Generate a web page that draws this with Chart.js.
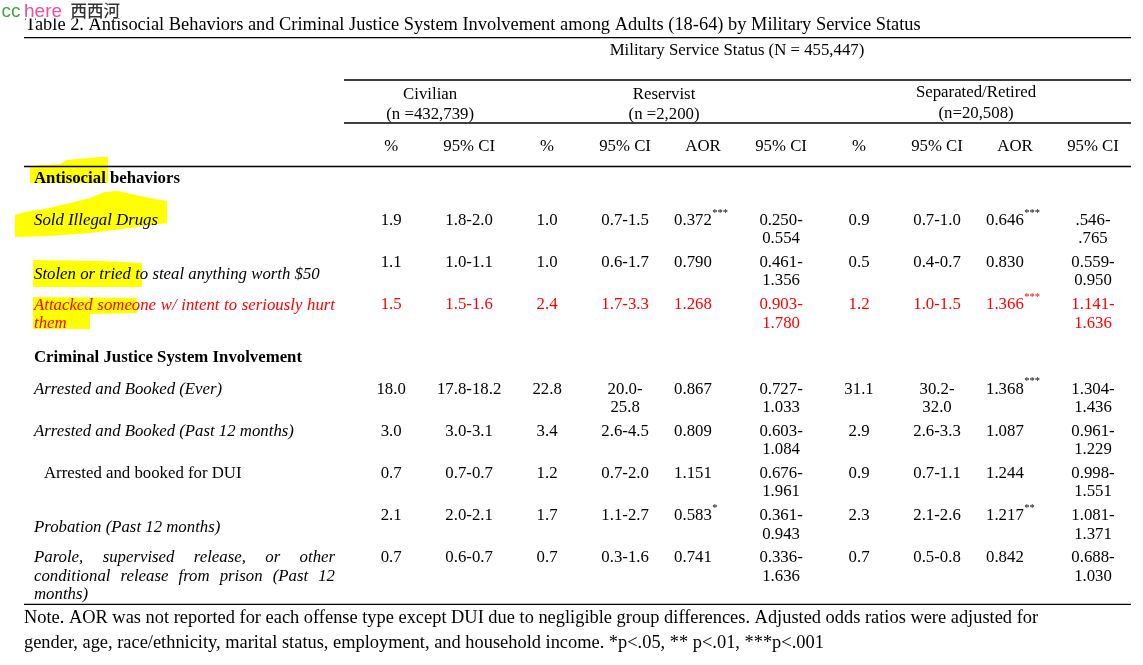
<!DOCTYPE html>
<html>
<head>
<meta charset="utf-8">
<script src="https://cdn.jsdelivr.net/npm/chart.js@4.4.1/dist/chart.umd.min.js"></script>
<style>
  html, body { margin: 0; padding: 0; background: #fff; }
  #wrap { width: 1143px; height: 665px; position: relative; }
</style>
</head>
<body>
<div id="wrap"><canvas id="tbl"></canvas></div>
<script>
// ---- table content ----
const titleText = 'Table 2. Antisocial Behaviors and Criminal Justice System Involvement among Adults (18-64) by Military Service Status';
const spanTitle = 'Military Service Status (N = 455,447)';
const groupNames = ['Civilian', 'Reservist', 'Separated/Retired'];
const groupCounts = ['(n =432,739)', '(n =2,200)', '(n=20,508)'];
const groupFirstCol = [0, 2, 6];
const groupLastCol = [1, 5, 9];
const colHeaders = ['%', '95% CI', '%', '95% CI', 'AOR', '95% CI', '%', '95% CI', 'AOR', '95% CI'];

const rowLabels = [
  ['Antisocial behaviors'],
  ['Sold Illegal Drugs'],
  ['Stolen or tried to steal anything worth $50'],
  ['Attacked someone w/ intent to seriously hurt', 'them'],
  ['Criminal Justice System Involvement'],
  ['Arrested and Booked (Ever)'],
  ['Arrested and Booked (Past 12 months)'],
  ['Arrested and booked for DUI'],
  ['Probation (Past 12 months)'],
  ['Parole, supervised release, or other', 'conditional release from prison (Past 12', 'months)']
];
const sectionRows = [0, 4];
const plainRows = [7];
const flaggedRow = 3;

const soldDrugs     = ['1.9', '1.8-2.0', '1.0', '0.7-1.5', '0.372***', '0.250-0.554', '0.9', '0.7-1.0', '0.646***', '.546-.765'];
const stolen50      = ['1.1', '1.0-1.1', '1.0', '0.6-1.7', '0.790', '0.461-1.356', '0.5', '0.4-0.7', '0.830', '0.559-0.950'];
const attacked      = ['1.5', '1.5-1.6', '2.4', '1.7-3.3', '1.268', '0.903-1.780', '1.2', '1.0-1.5', '1.366***', '1.141-1.636'];
const arrestedEver  = ['18.0', '17.8-18.2', '22.8', '20.0-25.8', '0.867', '0.727-1.033', '31.1', '30.2-32.0', '1.368***', '1.304-1.436'];
const arrested12m   = ['3.0', '3.0-3.1', '3.4', '2.6-4.5', '0.809', '0.603-1.084', '2.9', '2.6-3.3', '1.087', '0.961-1.229'];
const arrestedDui   = ['0.7', '0.7-0.7', '1.2', '0.7-2.0', '1.151', '0.676-1.961', '0.9', '0.7-1.1', '1.244', '0.998-1.551'];
const probation12m  = ['2.1', '2.0-2.1', '1.7', '1.1-2.7', '0.583*', '0.361-0.943', '2.3', '2.1-2.6', '1.217**', '1.081-1.371'];
const parole12m     = ['0.7', '0.6-0.7', '0.7', '0.3-1.6', '0.741', '0.336-1.636', '0.7', '0.5-0.8', '0.842', '0.688-1.030'];

const rowValues = [null, soldDrugs, stolen50, attacked, null, arrestedEver, arrested12m, arrestedDui, probation12m, parole12m];

const noteLines = [
  'Note. AOR was not reported for each offense type except DUI due to negligible group differences. Adjusted odds ratios were adjusted for',
  'gender, age, race/ethnicity, marital status, employment, and household income. *p<.05, ** p<.01, ***p<.001'
];

// ---- look ----
const INK = '#000';
const RED = '#ff0000';
const SERIF = '"Liberation Serif", "Times New Roman", Times, serif';
const BODY = 16.8;
const LINE = 18.4;
const MID = 1.5;            // 'middle' baseline sits a bit high for this face
const LABEL_X = 34, SUB_X = 44, LABEL_RIGHT = 335;
const RULE_L = 24, RULE_SPAN_L = 344, RULE_R = 1131;
const labelDrop = [0, 0, 12, 0.7, 11, 0, 0, 0, 12, 0];

// marker-pen strokes over the row labels
const HIGHLIGHTS = [
  [[30,166],[60,164],[67,160],[100,157],[108,157],[108,183],[30,183]],
  [[15,215],[25,212],[45,209],[70,203],[90,198],[105,192],[118,191],[140,196],[155,199],[167,201],[167,223],[130,228],[90,233],[50,236],[15,237]],
  [[33,260],[100,261],[142,263],[142,287],[33,287]],
  [[33,297],[137,298],[137,313],[90,314],[90,329],[33,329]]
];

function splitStars(t) {
  const m = t.match(/^(.*?)(\*+)$/);
  return m ? [m[1], m[2]] : [t, ''];
}

function drawJustified(ctx, text, x, y, width) {
  const words = text.split(' ');
  const total = words.reduce((s, w) => s + ctx.measureText(w).width, 0);
  const gap = words.length > 1 ? (width - total) / (words.length - 1) : 0;
  let cx = x;
  words.forEach(w => { ctx.fillText(w, cx, y); cx += ctx.measureText(w).width + gap; });
}

function drawCell(ctx, text, x, y, col, color) {
  const [num, stars] = splitStars(text);
  y += MID;
  ctx.fillStyle = color;
  ctx.font = BODY + 'px ' + SERIF;
  ctx.textBaseline = 'middle';
  if (colHeaders[col] === 'AOR') {
    const x0 = x - 29;
    ctx.textAlign = 'left';
    ctx.fillText(num, x0, y);
    if (stars) {
      const w = ctx.measureText(num).width;
      ctx.font = '10.5px ' + SERIF;
      ctx.fillText(stars, x0 + w + 0.5, y - 7.5);
    }
    return;
  }
  ctx.textAlign = 'center';
  const maxW = col === 1 ? 75 : 55;
  if (ctx.measureText(num).width > maxW) {
    const k = num.indexOf('-', 1);
    ctx.fillText(num.slice(0, k + 1), x, y);
    ctx.fillText(num.slice(k + 1), x, y + LINE);
  } else {
    ctx.fillText(num, x, y);
  }
}

const tablePainter = {
  id: 'tablePainter',
  beforeDatasetsDraw(chart) {
    const ctx = chart.ctx;
    const xs = chart.scales.x, ys = chart.scales.y;
    ctx.save();

    // highlighter
    ctx.fillStyle = '#ffff00';
    HIGHLIGHTS.forEach(poly => {
      ctx.beginPath();
      poly.forEach(([px, py], i) => i ? ctx.lineTo(px, py) : ctx.moveTo(px, py));
      ctx.closePath();
      ctx.fill();
    });

    // rules
    ctx.strokeStyle = INK;
    ctx.lineWidth = 1.3;
    [[RULE_L, 37.7], [RULE_SPAN_L, 80], [RULE_SPAN_L, 123], [RULE_L, 166.5], [RULE_L, 604.3]].forEach(([x0, y]) => {
      ctx.beginPath(); ctx.moveTo(x0, y); ctx.lineTo(RULE_R, y); ctx.stroke();
    });

    // title
    ctx.fillStyle = INK;
    ctx.textBaseline = 'alphabetic';
    ctx.textAlign = 'left';
    ctx.font = '18.4px ' + SERIF;
    ctx.fillText(titleText, 25, 29.5);

    // spanner + group heads
    ctx.textBaseline = 'middle';
    ctx.textAlign = 'center';
    ctx.font = BODY + 'px ' + SERIF;
    ctx.fillText(spanTitle, (chart.chartArea.left + chart.chartArea.right) / 2, 49.5 + MID);
    groupNames.forEach((g, i) => {
      const cx = (xs.getPixelForValue(groupFirstCol[i]) + xs.getPixelForValue(groupLastCol[i])) / 2;
      const lift = i === 2 ? 1.5 : 0;
      ctx.fillText(g, cx, 93 - lift + MID);
      ctx.fillText(groupCounts[i], cx, 113.3 - lift + MID);
    });
    colHeaders.forEach((h, c) => ctx.fillText(h, xs.getPixelForValue(c), 145 + MID));

    // row labels
    ctx.textAlign = 'left';
    rowLabels.forEach((lines, r) => {
      const y0 = ys.getPixelForValue(r) + labelDrop[r] + MID;
      let style = 'italic ';
      if (sectionRows.includes(r)) style = 'bold ';
      if (plainRows.includes(r)) style = '';
      ctx.font = style + BODY + 'px ' + SERIF;
      ctx.fillStyle = r === flaggedRow ? RED : INK;
      const x0 = plainRows.includes(r) ? SUB_X : LABEL_X;
      lines.forEach((ln, k) => {
        const y = y0 + k * LINE;
        if (k < lines.length - 1) drawJustified(ctx, ln, x0, y, LABEL_RIGHT - x0);
        else ctx.fillText(ln, x0, y);
      });
    });

    // note
    ctx.fillStyle = INK;
    ctx.font = '18.4px ' + SERIF;
    ctx.fillText(noteLines[0], 24, 616.7 + MID);
    ctx.fillText(noteLines[1], 24, 641.7 + MID);

    // watermark badge
    ctx.fillStyle = '#fff';
    ctx.fillRect(0, 0, 120, 18.5);
    ctx.textBaseline = 'alphabetic';
    ctx.font = '19px "Liberation Sans", Arial, sans-serif';
    ctx.fillStyle = '#43a047';
    ctx.fillText('cc', 1.5, 16.5);
    ctx.fillStyle = '#ee4f9e';
    ctx.fillText('here', 24, 16.5);
    ctx.fillStyle = '#333';
    ctx.font = '500 16.5px "Noto Sans CJK SC", sans-serif';
    ctx.fillText('西西河', 70.5, 16.5);

    ctx.restore();
  },
  afterDatasetsDraw(chart) {
    const ctx = chart.ctx;
    ctx.save();
    chart.data.datasets.forEach((ds, c) => {
      const meta = chart.getDatasetMeta(c);
      meta.data.forEach((pt, j) => {
        const r = ds.data[j].y;
        drawCell(ctx, rowValues[r][c], pt.x, pt.y, c, r === flaggedRow ? RED : INK);
      });
    });
    ctx.restore();
  }
};

new Chart(document.getElementById('tbl'), {
  type: 'scatter',
  data: {
    datasets: colHeaders.map((h, c) => ({
      label: h,
      data: rowValues.flatMap((vals, r) => vals ? [{ x: c, y: r }] : []),
      pointRadius: 0,
      pointHoverRadius: 0
    }))
  },
  options: {
    responsive: true,
    maintainAspectRatio: false,
    animation: false,
    events: [],
    layout: { padding: { left: 342, right: 11, top: 155.6, bottom: 87.4 } },
    plugins: { legend: { display: false }, tooltip: { enabled: false } },
    scales: {
      x: { type: 'linear', display: false, min: -0.63, max: 9.5 },
      y: { type: 'linear', display: false, min: -0.5, max: 9.5, reverse: true }
    }
  },
  plugins: [tablePainter]
});
</script>
</body>
</html>
